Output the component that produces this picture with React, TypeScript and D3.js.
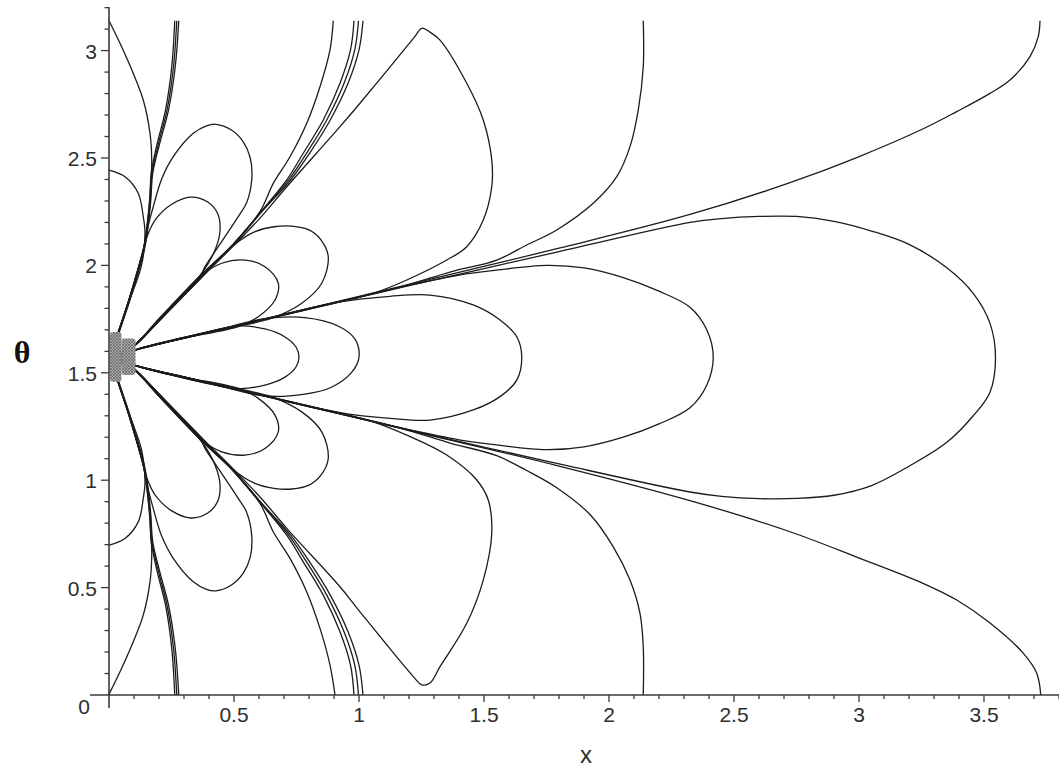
import { useEffect, useRef } from 'react';
import * as d3 from 'd3';

type Pt = [number, number];

const xTickLabels = ['0.5', '1', '1.5', '2', '2.5', '3', '3.5'];
const yTickLabels = ['0.5', '1', '1.5', '2', '2.5', '3'];
const xMinorTicks = d3.range(1, 39).map((i) => i / 10);
const yMinorTicks = d3.range(1, 33).map((i) => i / 10);

// outer U-shaped curve, x ~ 3.72 at both ends
const curveU372: Pt[] = [
    [3.724, 3.139], [3.717, 3.065], [3.684, 2.972], [3.604, 2.863], [3.524, 2.801], [3.391, 2.716],
    [3.257, 2.636], [2.991, 2.502], [2.724, 2.385], [2.324, 2.237], [1.8, 2.08],
    [1.2, 1.912], [0.7, 1.772], [0.3, 1.662], [0.104, 1.606], [0.04, 1.571],
    [0.104, 1.535], [0.3, 1.481], [0.7, 1.371], [1.2, 1.232], [1.8, 1.066],
    [2.324, 0.905], [2.724, 0.76], [2.991, 0.642], [3.256, 0.52], [3.391, 0.442],
    [3.524, 0.335], [3.656, 0.196], [3.711, 0.101], [3.727, 0],
];

// U-shaped curve, x ~ 2.14 at both ends
const curveU214: Pt[] = [
    [2.137, 3.139], [2.137, 2.925], [2.117, 2.723], [2.084, 2.553], [2.031, 2.413], [1.937, 2.289],
    [1.791, 2.165], [1.671, 2.095], [1.551, 2.025], [1.364, 1.969], [1.164, 1.899], [0.764, 1.79],
    [0.3, 1.662], [0.104, 1.606], [0.04, 1.571],
    [0.104, 1.535], [0.3, 1.481], [0.764, 1.352], [1.164, 1.243], [1.364, 1.173],
    [1.551, 1.114], [1.671, 1.045], [1.791, 0.965], [1.924, 0.84], [2.017, 0.69], [2.084, 0.535],
    [2.124, 0.38], [2.137, 0.225], [2.137, 0],
];

// lobes centred on theta = pi/2
const lobe354: Pt[] = [
    [0.04, 1.571], [0.104, 1.606], [0.7, 1.769], [1.2, 1.906], [1.8, 2.064], [2.324, 2.2],
    [2.45, 2.218], [2.6, 2.228], [2.75, 2.228], [2.9, 2.205], [3.05, 2.16], [3.2, 2.098],
    [3.35, 1.99], [3.457, 1.87], [3.524, 1.73], [3.546, 1.571], [3.524, 1.41], [3.457, 1.3],
    [3.35, 1.175], [3.2, 1.065], [3.05, 0.975], [2.9, 0.93], [2.75, 0.915], [2.6, 0.914],
    [2.45, 0.925], [2.324, 0.945], [1.8, 1.076], [1.2, 1.234], [0.7, 1.373], [0.104, 1.535], [0.04, 1.571],
];
const lobe242: Pt[] = [
    [0.04, 1.571], [0.104, 1.606], [0.7, 1.771], [1.2, 1.907], [1.4, 1.955], [1.55, 1.978],
    [1.75, 2.0], [1.9, 1.988], [2.057, 1.943], [2.2, 1.88], [2.324, 1.805], [2.391, 1.7], [2.417, 1.571],
    [2.391, 1.442], [2.324, 1.337], [2.2, 1.262], [2.057, 1.2], [1.9, 1.155], [1.75, 1.142],
    [1.55, 1.164], [1.4, 1.188], [1.2, 1.235], [0.7, 1.371], [0.104, 1.535], [0.04, 1.571],
];
const lobe165: Pt[] = [
    [0.04, 1.571], [0.104, 1.606], [0.5, 1.716], [0.924, 1.83], [1.124, 1.856], [1.284, 1.862],
    [1.457, 1.816], [1.564, 1.746], [1.631, 1.668], [1.651, 1.575], [1.631, 1.466], [1.564, 1.389],
    [1.457, 1.327], [1.284, 1.28], [1.124, 1.288], [0.924, 1.315], [0.5, 1.426], [0.104, 1.535], [0.04, 1.571],
];
const lobe100: Pt[] = [
    [0.04, 1.571], [0.104, 1.606], [0.4, 1.688], [0.624, 1.752], [0.784, 1.757], [0.916, 1.718],
    [0.984, 1.657], [1.0, 1.573], [0.972, 1.504], [0.892, 1.434], [0.784, 1.401], [0.624, 1.392],
    [0.4, 1.453], [0.104, 1.535], [0.04, 1.571],
];
const lobe076: Pt[] = [
    [0.04, 1.571], [0.104, 1.606], [0.3, 1.66], [0.516, 1.718], [0.624, 1.704], [0.704, 1.667],
    [0.748, 1.62], [0.76, 1.574], [0.748, 1.527], [0.704, 1.48], [0.624, 1.443], [0.516, 1.427],
    [0.3, 1.481], [0.104, 1.535], [0.04, 1.571],
];

// teardrops with cusps near x = 1.25
const tearUpper: Pt[] = [
    [0.04, 1.6], [0.096, 1.62], [0.2, 1.741], [0.371, 1.945], [0.491, 2.083], [0.604, 2.22],
    [0.711, 2.366], [0.924, 2.646], [1.004, 2.755], [1.22, 3.06], [1.251, 3.104], [1.285, 3.085],
    [1.324, 3.049], [1.431, 2.848], [1.497, 2.677], [1.531, 2.491], [1.531, 2.366], [1.497, 2.211],
    [1.431, 2.087], [1.351, 2.025], [1.191, 1.932], [1.057, 1.87], [0.924, 1.83], [0.5, 1.716],
    [0.104, 1.606], [0.04, 1.585],
];
const tearLower: Pt[] = [
    [0.04, 1.542], [0.096, 1.522], [0.2, 1.401], [0.371, 1.197], [0.491, 1.059], [0.604, 0.922],
    [0.711, 0.776], [0.924, 0.504], [1.004, 0.387], [1.22, 0.082], [1.251, 0.047], [1.285, 0.057],
    [1.324, 0.132], [1.431, 0.334], [1.497, 0.535], [1.531, 0.753], [1.517, 0.908], [1.471, 1.001],
    [1.351, 1.117], [1.191, 1.21], [1.057, 1.272], [0.924, 1.312], [0.5, 1.426], [0.104, 1.535], [0.04, 1.556],
];

// curves reaching the edges near x = 0.9 and x = 1
const curveU090: Pt[] = [
    [0.897, 3.139], [0.884, 3.003], [0.844, 2.832], [0.791, 2.662], [0.724, 2.506], [0.657, 2.382],
    [0.604, 2.25], [0.491, 2.09], [0.371, 1.95], [0.2, 1.745], [0.096, 1.62], [0.03, 1.571],
    [0.096, 1.522], [0.2, 1.397], [0.371, 1.192], [0.491, 1.052], [0.604, 0.892],
    [0.657, 0.76], [0.724, 0.636], [0.791, 0.48], [0.844, 0.31], [0.884, 0.139], [0.904, 0],
];
const curveU098: Pt[] = [
    [0.98, 3.139], [0.966, 3.003], [0.924, 2.848], [0.857, 2.677], [0.777, 2.522], [0.711, 2.398],
    [0.604, 2.245], [0.491, 2.092], [0.371, 1.955], [0.2, 1.748], [0.096, 1.62], [0.03, 1.571],
    [0.096, 1.522], [0.2, 1.394], [0.371, 1.187], [0.491, 1.05], [0.604, 0.897],
    [0.711, 0.744], [0.777, 0.62], [0.857, 0.465], [0.924, 0.294], [0.966, 0.139], [0.98, 0],
];
const curveU100: Pt[] = [
    [0.998, 3.139], [0.983, 3.003], [0.941, 2.85], [0.871, 2.677], [0.789, 2.52], [0.72, 2.4],
    [0.61, 2.25], [0.495, 2.095], [0.371, 1.957], [0.2, 1.75], [0.096, 1.62], [0.03, 1.571],
    [0.096, 1.522], [0.2, 1.392], [0.371, 1.185], [0.495, 1.047], [0.61, 0.892],
    [0.72, 0.742], [0.789, 0.622], [0.871, 0.465], [0.941, 0.292], [0.983, 0.139], [0.998, 0],
];
const curveU102: Pt[] = [
    [1.016, 3.139], [1.0, 3.003], [0.957, 2.85], [0.885, 2.677], [0.8, 2.518], [0.728, 2.4],
    [0.615, 2.255], [0.5, 2.1], [0.371, 1.96], [0.2, 1.752], [0.096, 1.62], [0.03, 1.571],
    [0.096, 1.522], [0.2, 1.39], [0.371, 1.182], [0.5, 1.042], [0.615, 0.887],
    [0.728, 0.742], [0.8, 0.624], [0.885, 0.465], [0.957, 0.292], [1.0, 0.139], [1.016, 0],
];

// steep bundle reaching the edges near x = 0.27
const curveU026: Pt[] = [
    [0.263, 3.139], [0.251, 2.925], [0.226, 2.723], [0.193, 2.568], [0.169, 2.429], [0.163, 2.3],
    [0.152, 2.18], [0.137, 2.071], [0.08, 1.84], [0.024, 1.64], [0.012, 1.571],
    [0.024, 1.502], [0.08, 1.302], [0.137, 1.071], [0.152, 0.962], [0.163, 0.842],
    [0.169, 0.713], [0.193, 0.574], [0.226, 0.419], [0.251, 0.217], [0.263, 0],
];
const curveU027: Pt[] = [
    [0.271, 3.139], [0.258, 2.925], [0.232, 2.723], [0.198, 2.568], [0.172, 2.429], [0.165, 2.3],
    [0.154, 2.18], [0.139, 2.071], [0.082, 1.84], [0.026, 1.64], [0.014, 1.571],
    [0.026, 1.502], [0.082, 1.302], [0.139, 1.071], [0.154, 0.962], [0.165, 0.842],
    [0.172, 0.713], [0.198, 0.574], [0.232, 0.419], [0.258, 0.217], [0.271, 0],
];
const curveU028: Pt[] = [
    [0.279, 3.139], [0.265, 2.925], [0.238, 2.723], [0.203, 2.568], [0.175, 2.429], [0.167, 2.3],
    [0.156, 2.18], [0.141, 2.071], [0.084, 1.84], [0.028, 1.64], [0.016, 1.571],
    [0.028, 1.502], [0.084, 1.302], [0.141, 1.071], [0.156, 0.962], [0.167, 0.842],
    [0.175, 0.713], [0.203, 0.574], [0.238, 0.419], [0.265, 0.217], [0.279, 0],
];

// curve from the corners (0, pi) and (0, 0)
const cornerCurve: Pt[] = [
    [0, 3.139], [0.044, 3.034], [0.097, 2.894], [0.137, 2.77], [0.164, 2.615], [0.171, 2.49],
    [0.168, 2.4], [0.158, 2.25], [0.14, 2.09], [0.08, 1.84], [0.024, 1.64], [0.012, 1.571],
    [0.024, 1.502], [0.08, 1.302], [0.14, 1.052], [0.158, 0.892], [0.168, 0.742],
    [0.171, 0.652], [0.164, 0.527], [0.137, 0.372], [0.097, 0.248], [0.044, 0.108], [0, 0.003],
];

// curve leaving the theta axis at 2.44 and 0.70
const axisCurve: Pt[] = [
    [0, 2.444], [0.064, 2.413], [0.117, 2.336], [0.137, 2.227], [0.144, 2.149], [0.13, 2.0],
    [0.08, 1.83], [0.024, 1.64], [0.012, 1.571], [0.024, 1.502], [0.08, 1.312],
    [0.13, 1.142], [0.144, 0.993], [0.137, 0.915], [0.117, 0.806], [0.064, 0.729], [0, 0.698],
];

// side lobes
const lobeDUpper: Pt[] = [
    [0.024, 1.64], [0.08, 1.84], [0.137, 2.071], [0.16, 2.2], [0.177, 2.273], [0.21, 2.4],
    [0.257, 2.506], [0.337, 2.615], [0.39, 2.65], [0.428, 2.657], [0.49, 2.63], [0.537, 2.575],
    [0.565, 2.5], [0.571, 2.4], [0.55, 2.29], [0.517, 2.227], [0.437, 2.087], [0.384, 1.994],
    [0.371, 1.963], [0.2, 1.745], [0.096, 1.62],
];
const lobeDLower: Pt[] = [
    [0.024, 1.502], [0.08, 1.302], [0.137, 1.071], [0.16, 0.942], [0.177, 0.869], [0.21, 0.742],
    [0.257, 0.636], [0.337, 0.527], [0.39, 0.492], [0.428, 0.485], [0.49, 0.512], [0.537, 0.567],
    [0.565, 0.642], [0.571, 0.742], [0.55, 0.852], [0.517, 0.915], [0.437, 1.055], [0.384, 1.148],
    [0.371, 1.179], [0.2, 1.397], [0.096, 1.522],
];
const lobeEUpper: Pt[] = [
    [0.024, 1.64], [0.08, 1.84], [0.137, 2.071], [0.157, 2.149], [0.19, 2.22], [0.251, 2.285],
    [0.327, 2.318], [0.395, 2.295], [0.435, 2.24], [0.444, 2.16], [0.424, 2.071], [0.371, 1.963],
    [0.2, 1.745], [0.096, 1.62],
];
const lobeELower: Pt[] = [
    [0.024, 1.502], [0.08, 1.302], [0.137, 1.071], [0.157, 0.993], [0.19, 0.922], [0.251, 0.857],
    [0.327, 0.824], [0.395, 0.847], [0.435, 0.902], [0.444, 0.982], [0.424, 1.071], [0.371, 1.179],
    [0.2, 1.397], [0.096, 1.522],
];
const lobeBUpper: Pt[] = [
    [0.096, 1.62], [0.2, 1.741], [0.371, 1.945], [0.491, 2.087], [0.584, 2.157], [0.66, 2.18],
    [0.731, 2.183], [0.8, 2.165], [0.847, 2.12], [0.877, 2.041], [0.851, 1.917], [0.771, 1.824],
    [0.651, 1.754], [0.544, 1.723], [0.3, 1.662], [0.104, 1.606],
];
const lobeBLower: Pt[] = [
    [0.096, 1.522], [0.2, 1.401], [0.371, 1.197], [0.491, 1.055], [0.584, 0.985], [0.66, 0.962],
    [0.731, 0.959], [0.8, 0.977], [0.847, 1.022], [0.877, 1.101], [0.851, 1.225], [0.771, 1.318],
    [0.651, 1.388], [0.544, 1.419], [0.3, 1.48], [0.104, 1.535],
];
const lobeCUpper: Pt[] = [
    [0.096, 1.62], [0.2, 1.741], [0.371, 1.955], [0.451, 2.01], [0.544, 2.025], [0.624, 1.994],
    [0.677, 1.917], [0.664, 1.839], [0.597, 1.761], [0.517, 1.715], [0.3, 1.662], [0.104, 1.606],
];
const lobeCLower: Pt[] = [
    [0.096, 1.522], [0.2, 1.401], [0.371, 1.187], [0.451, 1.132], [0.544, 1.117], [0.624, 1.148],
    [0.677, 1.225], [0.664, 1.303], [0.597, 1.381], [0.517, 1.427], [0.3, 1.48], [0.104, 1.535],
];

// dense knot of tiny curves near (0, pi/2): [x0, x1, theta0, theta1]
const knotBoxes: number[][] = [
    [0.004, 0.05, 1.458, 1.69],
    [0.05, 0.106, 1.49, 1.66],
];

const allCurves: Pt[][] = [
    curveU372, curveU214, lobe354, lobe242, lobe165, lobe100, lobe076,
    tearUpper, tearLower, curveU090, curveU098, curveU100, curveU102,
    curveU026, curveU027, curveU028, cornerCurve, axisCurve,
    lobeDUpper, lobeDLower, lobeEUpper, lobeELower,
    lobeBUpper, lobeBLower, lobeCUpper, lobeCLower,
];

const App = () => {
    const ref = useRef<SVGSVGElement>(null);
    const width = 1059,
        height = 775;

    useEffect(() => {
        const svg = d3.select(ref.current).attr('width', width).attr('height', height);
        svg.selectAll('*').remove();

        const x = d3.scaleLinear().domain([0, 1]).range([109, 359]);
        const y = d3.scaleLinear().domain([0, 1]).range([695, 480.2]);

        const axisColor = '#3a3a3a';
        const textColor = '#2e2e2e';

        // hatch for the knot of tiny curves
        const defs = svg.append('defs');
        const pat = defs
            .append('pattern')
            .attr('id', 'knot')
            .attr('width', 3)
            .attr('height', 3)
            .attr('patternUnits', 'userSpaceOnUse');
        pat.append('rect').attr('width', 3).attr('height', 3).attr('fill', '#a8a8a8');
        pat.append('path').attr('d', 'M0,0L3,3M3,0L0,3').attr('stroke', '#5a5a5a').attr('stroke-width', 0.6);

        const line = d3
            .line<Pt>()
            .x((d) => x(d[0]))
            .y((d) => y(d[1]))
            .curve(d3.curveCatmullRom.alpha(0.5));

        svg.append('g')
            .selectAll('path')
            .data(allCurves)
            .enter()
            .append('path')
            .attr('d', (d) => line(d))
            .attr('fill', 'none')
            .attr('stroke', '#1c1c1c')
            .attr('stroke-width', 1.3)
            .attr('stroke-linejoin', 'round');

        svg.append('g')
            .selectAll('rect')
            .data(knotBoxes)
            .enter()
            .append('rect')
            .attr('x', (d) => x(d[0]))
            .attr('y', (d) => y(d[3]))
            .attr('width', (d) => x(d[1]) - x(d[0]))
            .attr('height', (d) => y(d[2]) - y(d[3]))
            .attr('rx', 3)
            .attr('fill', 'url(#knot)');

        // axes
        const axes = svg.append('g').attr('stroke', axisColor);
        axes.append('line')
            .attr('x1', x(-0.076)).attr('x2', width)
            .attr('y1', y(0)).attr('y2', y(0))
            .attr('stroke-width', 1.6);
        axes.append('line')
            .attr('x1', x(0)).attr('x2', x(0))
            .attr('y1', y(-0.06)).attr('y2', y(3.203))
            .attr('stroke-width', 1.6);

        axes.selectAll('.xminor')
            .data(xMinorTicks)
            .enter()
            .append('line')
            .attr('x1', (d) => x(d)).attr('x2', (d) => x(d))
            .attr('y1', y(0)).attr('y2', (d) => y(0) + (Math.round(d * 10) % 5 === 0 ? 7 : 4))
            .attr('stroke-width', 1.3);
        axes.selectAll('.yminor')
            .data(yMinorTicks)
            .enter()
            .append('line')
            .attr('y1', (d) => y(d)).attr('y2', (d) => y(d))
            .attr('x1', x(0)).attr('x2', (d) => x(0) - (Math.round(d * 10) % 5 === 0 ? 8 : 4.5))
            .attr('stroke-width', 1.3);

        const font = '"Liberation Sans", Arial, sans-serif';
        svg.append('g')
            .selectAll('text')
            .data(xTickLabels)
            .enter()
            .append('text')
            .attr('x', (d) => x(+d))
            .attr('y', y(0) + 27)
            .attr('text-anchor', 'middle')
            .attr('font-family', font)
            .attr('font-size', 21)
            .attr('fill', textColor)
            .text((d) => d);
        svg.append('g')
            .selectAll('text')
            .data(yTickLabels)
            .enter()
            .append('text')
            .attr('x', x(0) - 12)
            .attr('y', (d) => y(+d) + 8)
            .attr('text-anchor', 'end')
            .attr('font-family', font)
            .attr('font-size', 21)
            .attr('fill', textColor)
            .text((d) => d);
        svg.append('text')
            .attr('x', x(0) - 25)
            .attr('y', y(0) + 19)
            .attr('text-anchor', 'middle')
            .attr('font-family', font)
            .attr('font-size', 21)
            .attr('fill', textColor)
            .text('0');

        // axis titles
        svg.append('text')
            .attr('x', 586)
            .attr('y', 763)
            .attr('text-anchor', 'middle')
            .attr('font-family', font)
            .attr('font-size', 24)
            .attr('fill', textColor)
            .text('x');
        svg.append('text')
            .attr('x', 22)
            .attr('y', 363)
            .attr('text-anchor', 'middle')
            .attr('font-family', '"Liberation Serif", "DejaVu Serif", serif')
            .attr('font-weight', 'bold')
            .attr('font-size', 32)
            .attr('fill', '#111')
            .text('θ');
    }, []);

    return <svg ref={ref} style={{ position: 'absolute', left: 0, top: 0, background: '#fff' }}></svg>;
};

export default App;
